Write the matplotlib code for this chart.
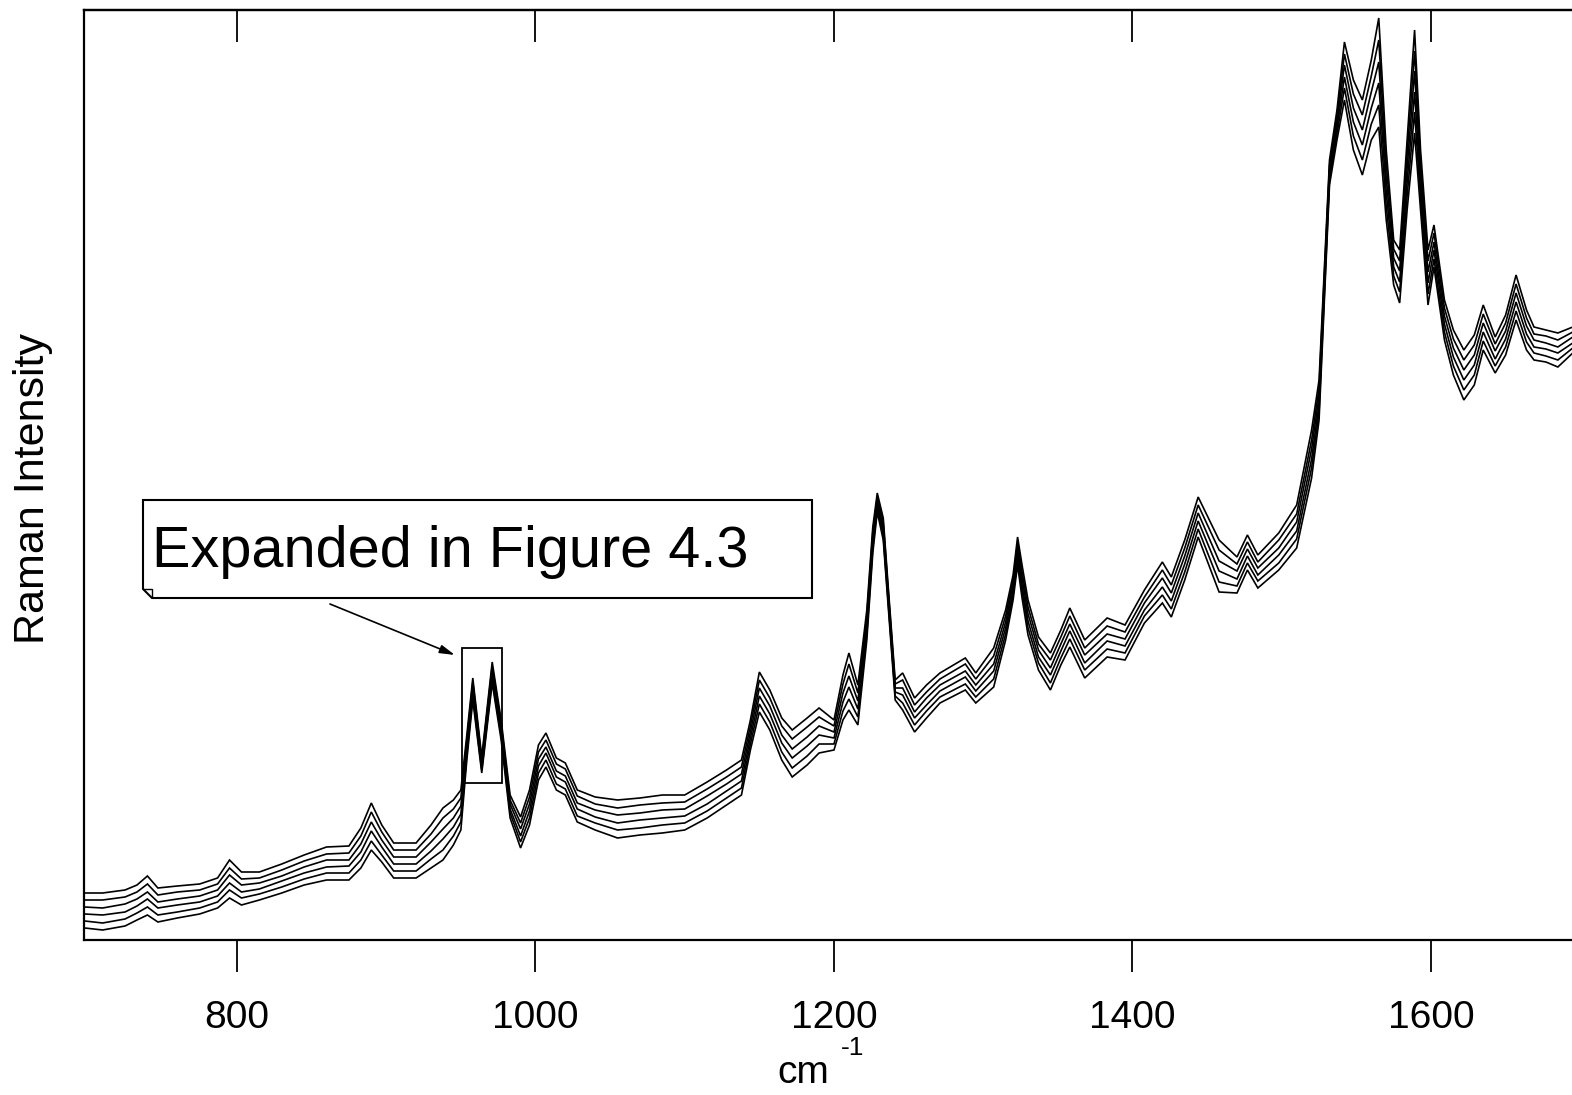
import matplotlib
matplotlib.use("Agg")
import matplotlib.pyplot as plt
from matplotlib.patches import Polygon, Rectangle

plt.rcParams["font.family"] = ["Liberation Sans", "DejaVu Sans"]

# Raman shift grid (cm^-1)
wavenumber = [
    698, 710, 725, 733, 740, 747, 760, 775, 787, 795,
    803, 815, 830, 845, 860, 875, 883, 890, 897, 905,
    920, 930, 938, 945, 950, 954, 958, 964, 971, 977,
    983, 990, 996, 1002, 1007, 1014, 1020, 1028, 1040, 1055,
    1070, 1085, 1100, 1115, 1128, 1138, 1144, 1150, 1157, 1165,
    1172, 1182, 1190, 1200, 1206, 1210, 1216, 1222, 1226, 1229,
    1233, 1236, 1241, 1246, 1254, 1262, 1271, 1288, 1295, 1307,
    1315, 1320, 1323, 1326, 1330, 1337, 1345, 1352, 1358, 1368,
    1383, 1395, 1408, 1420, 1426, 1435, 1444, 1458, 1470, 1477,
    1484, 1498, 1510, 1520, 1525, 1532, 1537, 1542, 1548, 1554,
    1560, 1565, 1570, 1575, 1579, 1584, 1589, 1593, 1598, 1602,
    1609, 1615, 1622, 1629, 1635, 1643, 1650, 1657, 1664, 1669,
    1677, 1685, 1695,
]

# Six overlaid spectra (arbitrary intensity units)
spectrum_1 = [
    45, 45, 48, 53, 62, 50, 52, 54, 60, 78,
    66, 66, 74, 83, 91, 92, 110, 135, 113, 95,
    95, 113, 130, 138, 148, 203, 260, 181, 276, 218,
    143, 121, 148, 193, 205, 180, 175, 148, 141, 138,
    140, 143, 143, 156, 168, 178, 218, 266, 248, 220,
    208, 220, 230, 218, 263, 285, 253, 328, 411, 445,
    420, 358, 258, 265, 240, 253, 265, 280, 265, 290,
    328, 363, 401, 373, 338, 301, 285, 308, 330, 298,
    320, 313, 348, 376, 361, 398, 441, 398, 381, 403,
    383, 405, 433, 508, 558, 778, 828, 896, 858, 838,
    878, 920, 788, 698, 688, 798, 908, 788, 688, 713,
    638, 608, 588, 603, 633, 601, 623, 663, 628, 611,
    608, 605, 611,
]
spectrum_2 = [
    38, 38, 41, 46, 54, 43, 46, 48, 54, 70,
    59, 60, 68, 77, 84, 85, 102, 126, 106, 88,
    88, 104, 120, 129, 140, 198, 256, 178, 272, 214,
    138, 115, 141, 186, 198, 174, 169, 142, 134, 130,
    133, 135, 136, 149, 161, 171, 212, 258, 240, 212,
    199, 211, 221, 212, 254, 274, 245, 322, 406, 441,
    416, 354, 254, 258, 233, 246, 259, 274, 259, 282,
    322, 358, 395, 366, 331, 294, 278, 301, 322, 290,
    312, 306, 341, 368, 353, 390, 433, 388, 374, 396,
    376, 398, 424, 498, 550, 773, 822, 884, 844, 823,
    862, 898, 774, 689, 677, 784, 887, 776, 677, 705,
    630, 599, 578, 593, 624, 594, 615, 654, 620, 604,
    602, 598, 606,
]
spectrum_3 = [
    31, 30, 34, 39, 46, 36, 39, 42, 48, 63,
    53, 55, 62, 71, 78, 78, 94, 116, 98, 81,
    81, 96, 109, 120, 132, 193, 251, 175, 268, 210,
    134, 109, 134, 179, 191, 167, 162, 135, 128, 123,
    125, 128, 129, 142, 154, 164, 206, 250, 232, 203,
    189, 201, 212, 206, 245, 262, 237, 316, 401, 437,
    411, 350, 250, 250, 226, 240, 253, 267, 253, 274,
    316, 353, 390, 360, 324, 288, 270, 294, 314, 283,
    304, 299, 335, 360, 345, 382, 425, 377, 367, 389,
    370, 390, 416, 489, 542, 768, 816, 873, 830, 808,
    846, 876, 760, 680, 667, 770, 867, 764, 666, 696,
    622, 590, 568, 583, 615, 587, 607, 645, 612, 598,
    595, 591, 601,
]
spectrum_4 = [
    24, 23, 26, 32, 39, 30, 33, 36, 42, 55,
    46, 49, 57, 65, 71, 72, 86, 107, 91, 74,
    74, 87, 99, 111, 124, 188, 247, 172, 263, 206,
    129, 102, 127, 172, 185, 161, 156, 129, 121, 115,
    118, 120, 122, 134, 147, 157, 200, 242, 224, 195,
    180, 192, 203, 200, 236, 251, 229, 310, 395, 434,
    407, 346, 246, 243, 220, 233, 247, 261, 247, 267,
    310, 348, 384, 353, 317, 281, 263, 287, 307, 275,
    297, 292, 328, 351, 337, 374, 417, 367, 359, 382,
    363, 383, 407, 479, 534, 763, 810, 861, 816, 793,
    830, 855, 746, 671, 656, 756, 846, 752, 655, 688,
    614, 581, 558, 573, 606, 579, 599, 636, 604, 591,
    589, 585, 595,
]
spectrum_5 = [
    17, 15, 19, 25, 31, 23, 26, 30, 36, 48,
    40, 44, 51, 59, 65, 65, 78, 97, 83, 67,
    67, 79, 88, 102, 116, 183, 242, 168, 259, 202,
    125, 96, 120, 165, 178, 154, 149, 122, 115, 108,
    110, 113, 115, 127, 140, 150, 194, 234, 216, 186,
    170, 182, 194, 194, 227, 239, 221, 304, 390, 430,
    402, 342, 242, 235, 213, 227, 241, 254, 241, 259,
    304, 343, 379, 347, 310, 275, 255, 280, 299, 268,
    289, 285, 322, 343, 329, 366, 409, 356, 352, 375,
    357, 375, 399, 470, 526, 758, 804, 850, 802, 778,
    814, 833, 732, 662, 646, 742, 826, 740, 644, 679,
    606, 572, 548, 563, 597, 572, 591, 627, 596, 585,
    582, 578, 590,
]
spectrum_6 = [
    10, 8, 12, 18, 23, 16, 20, 24, 30, 40,
    33, 38, 45, 53, 58, 58, 70, 88, 76, 60,
    60, 70, 78, 93, 108, 178, 238, 165, 255, 198,
    120, 90, 113, 158, 171, 148, 143, 116, 108, 100,
    103, 105, 108, 120, 133, 143, 188, 226, 208, 178,
    161, 173, 185, 188, 218, 228, 213, 298, 385, 426,
    398, 338, 238, 228, 206, 220, 235, 248, 235, 251,
    298, 338, 373, 340, 303, 268, 248, 273, 291, 260,
    281, 278, 315, 335, 321, 358, 401, 346, 345, 368,
    350, 368, 390, 460, 518, 753, 798, 838, 788, 763,
    798, 811, 718, 653, 635, 728, 805, 728, 633, 671,
    598, 563, 538, 553, 588, 565, 583, 618, 588, 578,
    576, 571, 585,
]
spectra = [spectrum_1, spectrum_2, spectrum_3, spectrum_4, spectrum_5, spectrum_6]

xticks = [800, 1000, 1200, 1400, 1600]
xtick_labels = ["800", "1000", "1200", "1400", "1600"]

W, H = 1572, 1095
fig = plt.figure(figsize=(W / 100, H / 100), dpi=100)

# axes box in pixel terms: left 84, top 10, bottom 940; right edge runs past the figure
left_px, top_px, bottom_px = 84, 10, 940
x_lo, x_hi = 697.5, 1700.0
px_per_unit = 1.4925
right_px = 237 + (x_hi - 800) * px_per_unit
ax = fig.add_axes([left_px / W, 1 - bottom_px / H,
                   (right_px - left_px) / W, (bottom_px - top_px) / H])

for s in spectra:
    ax.plot(wavenumber, s, color="black", lw=1.2, solid_joinstyle="miter")

ax.set_xlim(x_lo, x_hi)
ax.set_ylim(-2, 928)

for sp in ax.spines.values():
    sp.set_linewidth(1.6)

ax.set_yticks([])
ax.set_xticks(xticks)
ax.set_xticklabels(xtick_labels)
ax.tick_params(axis="x", direction="out", length=23, width=1.3, pad=20,
               labelsize=28, top=False)

top = ax.secondary_xaxis("top")
top.set_xticks(xticks)
top.set_xticklabels([])
top.tick_params(axis="x", direction="in", length=23, width=1.3)
top.spines["top"].set_linewidth(1.6)

ax.set_ylabel("Raman Intensity", fontsize=31)
ax.yaxis.set_label_coords(-0.0205, 0.485)

# axis unit label with raised exponent
fig.text(803 / W, 1 - 1083 / H, "cm", fontsize=28, ha="center", va="baseline")
fig.text(853 / W, 1 - 1055 / H, "-1", fontsize=19, ha="center", va="baseline")

# highlighted region around the doublet
ax.add_patch(Rectangle((950.8, 155), 26.8, 135, fill=False, ec="black", lw=1.3, zorder=3))

# callout box with folded corner
bx0, bx1, by0, by1 = 143, 812, 500, 598
pts = [(bx0, by0), (bx1, by0), (bx1, by1), (bx0 + 9, by1), (bx0, by1 - 9)]
poly = Polygon([(x / W, 1 - y / H) for x, y in pts], closed=True,
               transform=fig.transFigure, fc="white", ec="black", lw=1.5, zorder=4)
fig.patches.append(poly)
fold = Polygon([(x / W, 1 - y / H) for x, y in [(bx0, by1 - 9), (bx0 + 9, by1 - 9), (bx0 + 9, by1)]],
               closed=False, fill=False, transform=fig.transFigure, ec="black", lw=1.0, zorder=5)
fig.patches.append(fold)
fig.text(152 / W, 1 - 567 / H, "Expanded in Figure 4.3", fontsize=41.5,
         ha="left", va="baseline", zorder=6)

ax.annotate("", xy=(946, 283), xytext=(862.3, 334),
            arrowprops=dict(arrowstyle="-|>,head_length=0.9,head_width=0.25",
                            color="black", lw=1.2, shrinkA=0, shrinkB=0))

fig.savefig("out.png", dpi=100)
